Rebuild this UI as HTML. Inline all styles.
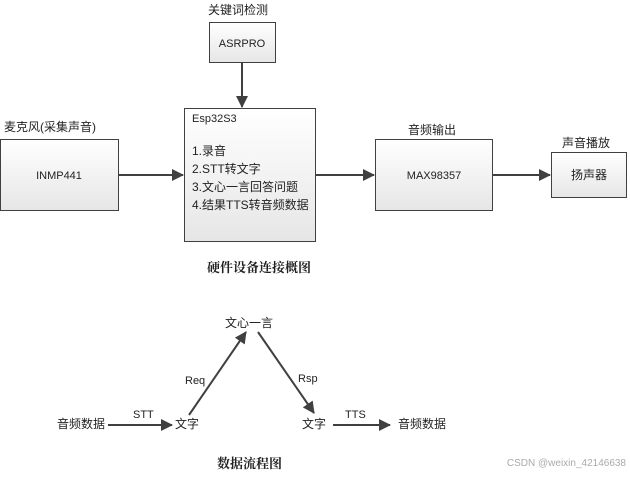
<!DOCTYPE html>
<html><head><meta charset="utf-8"><style>
body{margin:0;background:#fff;}
svg text{font-family:"Liberation Sans","Noto Sans CJK SC",sans-serif;fill:#222;}
</style></head><body>
<svg width="630" height="475" xmlns="http://www.w3.org/2000/svg">
<defs>
<linearGradient id="g" x1="0" y1="0" x2="0" y2="1"><stop offset="0" stop-color="#fff"/><stop offset="1" stop-color="#e6e6e6"/></linearGradient>
<marker id="a" markerWidth="12" markerHeight="12" refX="11" refY="6" orient="auto" markerUnits="userSpaceOnUse"><path d="M0,0 L12,6 L0,12 z" fill="#404040"/></marker>
</defs>
<g stroke="#404040" stroke-width="1" fill="url(#g)">
<rect x="209.5" y="22.5" width="66" height="40"/>
<rect x="184.5" y="108.5" width="131" height="133"/>
<rect x="0.5" y="139.5" width="118" height="71"/>
<rect x="375.5" y="139.5" width="117" height="71"/>
<rect x="551.5" y="152.5" width="75" height="45"/>
</g>
<g stroke="#404040" stroke-width="2" marker-end="url(#a)">
<line x1="242" y1="63" x2="242" y2="107"/>
<line x1="119" y1="175" x2="183" y2="175"/>
<line x1="316" y1="175" x2="374" y2="175"/>
<line x1="493" y1="175" x2="550" y2="175"/>
<line x1="108" y1="425" x2="172" y2="425"/>
<line x1="189" y1="415" x2="246" y2="332"/>
<line x1="258" y1="332" x2="314" y2="413"/>
<line x1="333" y1="425" x2="390" y2="425"/>
</g>
<g font-size="12">
<text x="208" y="14">关键词检测</text>
<text x="242" y="47" text-anchor="middle" font-size="11">ASRPRO</text>
<text x="4" y="131">麦克风(采集声音)</text>
<text x="59" y="179" text-anchor="middle" font-size="11">INMP441</text>
<text x="192" y="122" font-size="11">Esp32S3</text>
<text x="192" y="155">1.录音</text>
<text x="192" y="173">2.STT转文字</text>
<text x="192" y="191">3.文心一言回答问题</text>
<text x="192" y="209">4.结果TTS转音频数据</text>
<text x="408" y="134">音频输出</text>
<text x="434" y="179" text-anchor="middle" font-size="11">MAX98357</text>
<text x="562" y="147">声音播放</text>
<text x="589" y="179" text-anchor="middle">扬声器</text>
<text x="207" y="272" font-weight="bold" font-size="13" style="font-family:'Noto Serif CJK SC',serif">硬件设备连接概图</text>
<text x="225" y="327">文心一言</text>
<text x="185" y="384" font-size="11">Req</text>
<text x="298" y="382" font-size="11">Rsp</text>
<text x="57" y="428">音频数据</text>
<text x="133" y="418" font-size="11">STT</text>
<text x="175" y="428">文字</text>
<text x="302" y="428">文字</text>
<text x="345" y="418" font-size="11">TTS</text>
<text x="398" y="428">音频数据</text>
<text x="217" y="468" font-weight="bold" font-size="13" style="font-family:'Noto Serif CJK SC',serif">数据流程图</text>
<text x="626" y="466" text-anchor="end" font-size="10" style="fill:#aaa">CSDN @weixin_42146638</text>
</g>
</svg>
</body></html>
